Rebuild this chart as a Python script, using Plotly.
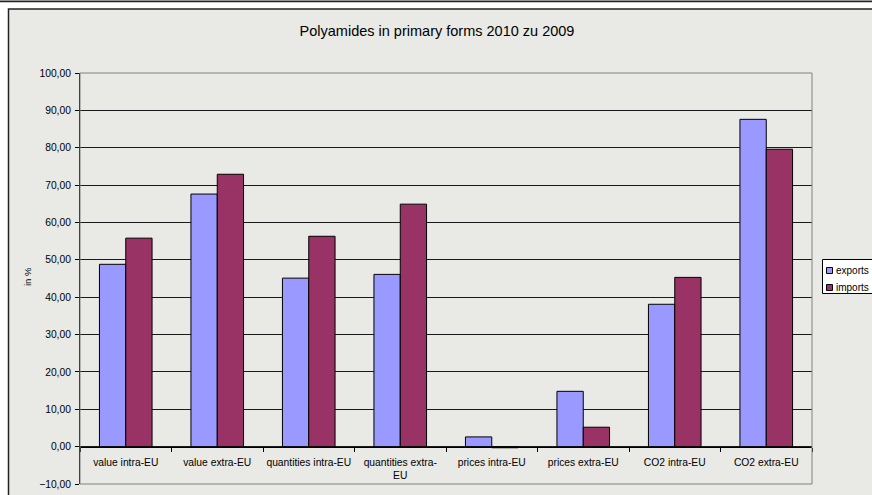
import plotly.graph_objects as go

categories = ["value intra-EU", "value extra-EU", "quantities intra-EU", "quantities extra-<br>EU",
              "prices intra-EU", "prices extra-EU", "CO2 intra-EU", "CO2 extra-EU"]
series_names = ["exports", "imports"]
exports = [48.8, 67.6, 45.1, 46.1, 2.6, 14.8, 38.1, 87.6]
imports = [55.8, 72.9, 56.3, 64.9, -0.3, 5.2, 45.3, 79.6]
y_ticks = [-10, 0, 10, 20, 30, 40, 50, 60, 70, 80, 90, 100]

COLORS = ["#9999ff", "#993366"]

W, H = 872, 495
L, R, T, B = 80, 60, 73, 11
pw, ph = W - L - R, H - T - B

def px_x(px):
    return (px - L) / pw

def px_y(py):
    return (H - B - py) / ph

FONT = "Liberation Sans, Arial, sans-serif"

fig = go.Figure()
for name, vals, col in zip(series_names, [exports, imports], COLORS):
    fig.add_trace(go.Bar(name=name, x=categories, y=vals,
                         marker=dict(color=col, line=dict(color="#000000", width=1))))

ymin, ymax = -10, 100
zero_pos = (0 - ymin) / (ymax - ymin)

shapes = [
    dict(type="rect", xref="paper", yref="paper", layer="below",
         x0=px_x(8.5), x1=px_x(885), y0=px_y(505), y1=px_y(9),
         fillcolor="#e9e9e5", line=dict(color="#222222", width=1.5)),
    dict(type="rect", xref="paper", yref="paper", layer="below",
         x0=px_x(-5), x1=px_x(885), y0=px_y(1.5), y1=px_y(-5),
         fillcolor="#bbbbbb", line=dict(color="#222222", width=1.5)),
    dict(type="rect", xref="paper", yref="paper", layer="above",
         x0=0, x1=1, y0=0, y1=1,
         line=dict(color="#808080", width=1)),
    # legend box
    dict(type="rect", xref="paper", yref="paper", layer="above",
         x0=px_x(822.5), x1=px_x(880), y0=px_y(293.5), y1=px_y(259.5),
         fillcolor="#ffffff", line=dict(color="#000000", width=1)),
]
annotations = [
    dict(text="in %", xref="paper", yref="paper", x=px_x(27), y=px_y(277),
         textangle=-90, showarrow=False, font=dict(family=FONT, size=9.5, color="#000000"),
         xanchor="center", yanchor="middle"),
]
legend_rows = [270.5, 287.5]
for name, col, yc in zip(series_names, COLORS, legend_rows):
    shapes.append(dict(type="rect", xref="paper", yref="paper", layer="above",
                       x0=px_x(826.5), x1=px_x(832.5), y0=px_y(yc + 3), y1=px_y(yc - 3),
                       fillcolor=col, line=dict(color="#000000", width=1)))
    annotations.append(dict(text=name, xref="paper", yref="paper", x=px_x(834), y=px_y(yc),
                            xanchor="left", yanchor="middle", showarrow=False,
                            font=dict(family=FONT, size=10, color="#000000")))

fig.update_layout(
    width=W, height=H,
    margin=dict(l=L, r=R, t=T, b=B, pad=0, autoexpand=False),
    paper_bgcolor="#ffffff",
    plot_bgcolor="#c0c0c0",
    barmode="group",
    bargap=0.425,
    bargroupgap=0,
    separators=",.",
    font=dict(family=FONT, size=10, color="#000000"),
    title=dict(text="Polyamides in primary forms 2010 zu 2009", x=437 / W, xref="container",
               y=1 - 31 / H, yref="container", xanchor="center", yanchor="middle",
               font=dict(family=FONT, size=14.5, color="#000000")),
    showlegend=False,
    xaxis=dict(
        domain=[0, 1], anchor="free", position=zero_pos, automargin=False,
        showline=True, linecolor="#000000", linewidth=1,
        ticks="outside", ticklen=4, tickcolor="#000000", tickson="boundaries",
        tickangle=0, showgrid=False, ticklabelstandoff=6,
        tickfont=dict(family=FONT, size=10.3, color="#000000"),
    ),
    yaxis=dict(
        domain=[0, 1], range=[ymin, ymax], tickvals=y_ticks, tickformat=".2f",
        automargin=False,
        showline=True, linecolor="#000000", linewidth=1,
        ticks="outside", ticklen=4, tickcolor="#000000", ticklabelstandoff=2,
        showgrid=True, gridcolor="#1a1a1a", gridwidth=1, zeroline=False,
        tickfont=dict(family=FONT, size=10.3, color="#000000"),
    ),
    shapes=shapes,
    annotations=annotations,
)

fig.write_html("out.html", config={"displayModeBar": False},
               post_script="document.body.style.margin='0';document.body.style.overflow='hidden';")
